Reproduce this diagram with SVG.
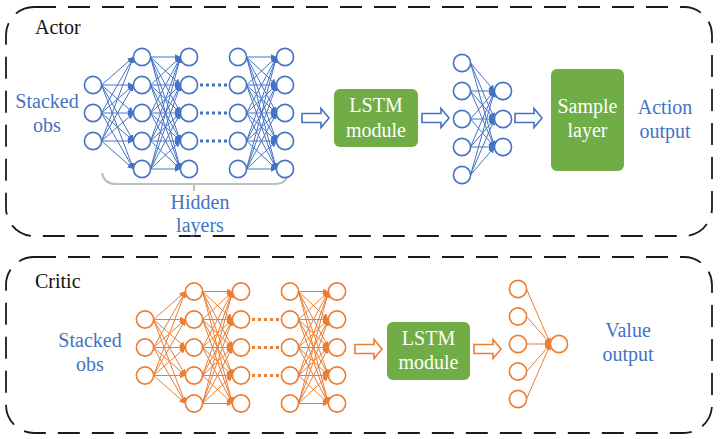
<svg xmlns="http://www.w3.org/2000/svg" xmlns:xlink="http://www.w3.org/1999/xlink" width="720" height="439" viewBox="0 0 720 439">
<style>
.frame{fill:none;stroke:#1a1a1a;stroke-width:1.8;stroke-dasharray:22 12}
.nb{fill:#fff;stroke:#4472C4;stroke-width:1.6}
.no{fill:#fff;stroke:#ED7D31;stroke-width:1.6}
.cb{stroke:#4472C4;stroke-width:1;fill:none;marker-end:url(#ahb)}
.co{stroke:#ED7D31;stroke-width:1;fill:none;marker-end:url(#aho)}
.dotb{stroke:#4472C4;stroke-width:3;stroke-dasharray:3 3}
.doto{stroke:#ED7D31;stroke-width:3;stroke-dasharray:3 3}
.blkb{fill:#fff;stroke:#4472C4;stroke-width:1.6}
.blko{fill:#fff;stroke:#ED7D31;stroke-width:1.6}
.box{fill:#70AD47}
text{font-family:'Liberation Serif','Times New Roman',Tinos,'DejaVu Serif',serif;font-size:20px}
.tb{fill:#4472C4;text-anchor:middle}
.tw{fill:#fff;text-anchor:middle}
.tk{fill:#111}
.brace{fill:none;stroke:#BFBFBF;stroke-width:2}
</style>
<defs>
<marker id="ahb" markerUnits="userSpaceOnUse" markerWidth="6" markerHeight="6" refX="6" refY="3" orient="auto"><path d="M0,0 L6,3 L0,6 z" fill="#4472C4"/></marker>
<marker id="aho" markerUnits="userSpaceOnUse" markerWidth="6" markerHeight="6" refX="6" refY="3" orient="auto"><path d="M0,0 L6,3 L0,6 z" fill="#ED7D31"/></marker>
<g id="mesh35">
<line x1="0" y1="28" x2="32" y2="0"/><line x1="0" y1="28" x2="32" y2="28"/><line x1="0" y1="28" x2="32" y2="56"/><line x1="0" y1="28" x2="32" y2="84"/><line x1="0" y1="28" x2="32" y2="112"/>
<line x1="0" y1="56" x2="32" y2="0"/><line x1="0" y1="56" x2="32" y2="28"/><line x1="0" y1="56" x2="32" y2="56"/><line x1="0" y1="56" x2="32" y2="84"/><line x1="0" y1="56" x2="32" y2="112"/>
<line x1="0" y1="84" x2="32" y2="0"/><line x1="0" y1="84" x2="32" y2="28"/><line x1="0" y1="84" x2="32" y2="56"/><line x1="0" y1="84" x2="32" y2="84"/><line x1="0" y1="84" x2="32" y2="112"/>
</g>
<g id="mesh55">
<line x1="0" y1="0" x2="30" y2="0"/><line x1="0" y1="0" x2="30" y2="28"/><line x1="0" y1="0" x2="30" y2="56"/><line x1="0" y1="0" x2="30" y2="84"/><line x1="0" y1="0" x2="30" y2="112"/>
<line x1="0" y1="28" x2="30" y2="0"/><line x1="0" y1="28" x2="30" y2="28"/><line x1="0" y1="28" x2="30" y2="56"/><line x1="0" y1="28" x2="30" y2="84"/><line x1="0" y1="28" x2="30" y2="112"/>
<line x1="0" y1="56" x2="30" y2="0"/><line x1="0" y1="56" x2="30" y2="28"/><line x1="0" y1="56" x2="30" y2="56"/><line x1="0" y1="56" x2="30" y2="84"/><line x1="0" y1="56" x2="30" y2="112"/>
<line x1="0" y1="84" x2="30" y2="0"/><line x1="0" y1="84" x2="30" y2="28"/><line x1="0" y1="84" x2="30" y2="56"/><line x1="0" y1="84" x2="30" y2="84"/><line x1="0" y1="84" x2="30" y2="112"/>
<line x1="0" y1="112" x2="30" y2="0"/><line x1="0" y1="112" x2="30" y2="28"/><line x1="0" y1="112" x2="30" y2="56"/><line x1="0" y1="112" x2="30" y2="84"/><line x1="0" y1="112" x2="30" y2="112"/>
</g>
<g id="mesh53">
<line x1="0" y1="0" x2="24" y2="28"/><line x1="0" y1="0" x2="24" y2="56"/><line x1="0" y1="0" x2="24" y2="84"/>
<line x1="0" y1="28" x2="24" y2="28"/><line x1="0" y1="28" x2="24" y2="56"/><line x1="0" y1="28" x2="24" y2="84"/>
<line x1="0" y1="56" x2="24" y2="28"/><line x1="0" y1="56" x2="24" y2="56"/><line x1="0" y1="56" x2="24" y2="84"/>
<line x1="0" y1="84" x2="24" y2="28"/><line x1="0" y1="84" x2="24" y2="56"/><line x1="0" y1="84" x2="24" y2="84"/>
<line x1="0" y1="112" x2="24" y2="28"/><line x1="0" y1="112" x2="24" y2="56"/><line x1="0" y1="112" x2="24" y2="84"/>
</g>
</defs>

<rect id="actor-frame" class="frame" x="6" y="7" width="706" height="229" rx="28"/>
<rect id="critic-frame" class="frame" x="6" y="257" width="706" height="176" rx="28"/>
<text class="tk" x="35" y="34" font-family="Liberation Serif, serif">Actor</text>
<text class="tk" x="35" y="288" font-family="Liberation Serif, serif">Critic</text>

<g id="connectors">
<use class="cb" xlink:href="#mesh35" transform="translate(101.5,57)"/>
<use class="cb" xlink:href="#mesh55" transform="translate(150.5,57)"/>
<use class="cb" xlink:href="#mesh55" transform="translate(246.5,57)"/>
<line class="dotb" x1="200" y1="85" x2="228" y2="85"/>
<line class="dotb" x1="200" y1="113" x2="228" y2="113"/>
<line class="dotb" x1="200" y1="141" x2="228" y2="141"/>
<use class="cb" xlink:href="#mesh53" transform="translate(470.5,63)"/>
<path class="blkb" d="M302,113.5 H321 V108.5 L329,118 L321,127.5 V122.5 H302 Z"/>
<path class="blkb" d="M422,113.5 H441 V108.5 L449,118 L441,127.5 V122.5 H422 Z"/>
<path class="blkb" d="M515,113.5 H534 V108.5 L542,118 L534,127.5 V122.5 H515 Z"/>

<use class="co" xlink:href="#mesh35" transform="translate(153.5,291.5)"/>
<use class="co" xlink:href="#mesh55" transform="translate(202.5,291.5)"/>
<use class="co" xlink:href="#mesh55" transform="translate(298.5,291.5)"/>
<line class="doto" x1="252" y1="319.5" x2="280" y2="319.5"/>
<line class="doto" x1="252" y1="347.5" x2="280" y2="347.5"/>
<line class="doto" x1="252" y1="375.5" x2="280" y2="375.5"/>
<line class="co" x1="526.5" y1="289" x2="550.5" y2="344"/>
<line class="co" x1="526.5" y1="316.5" x2="550.5" y2="344"/>
<line class="co" x1="526.5" y1="344" x2="550.5" y2="344"/>
<line class="co" x1="526.5" y1="371.5" x2="550.5" y2="344"/>
<line class="co" x1="526.5" y1="399" x2="550.5" y2="344"/>
<path class="blko" d="M355,344.5 H374 V339.5 L382,349 L374,358.5 V353.5 H355 Z"/>
<path class="blko" d="M474,344.5 H493 V339.5 L501,349 L493,358.5 V353.5 H474 Z"/>
</g>

<g id="brace">
<path class="brace" d="M102,173 Q104,184 116,184 H276 Q286,184 288,174 M194,184 V191"/>
</g>

<g id="actor-nodes">
<g id="a-in-1"><circle class="nb" cx="93" cy="85" r="8.6"/></g>
<g id="a-in-2"><circle class="nb" cx="93" cy="113" r="8.6"/></g>
<g id="a-in-3"><circle class="nb" cx="93" cy="141" r="8.6"/></g>
<g id="a-h1-1"><circle class="nb" cx="142" cy="57" r="8.6"/></g>
<g id="a-h1-2"><circle class="nb" cx="142" cy="85" r="8.6"/></g>
<g id="a-h1-3"><circle class="nb" cx="142" cy="113" r="8.6"/></g>
<g id="a-h1-4"><circle class="nb" cx="142" cy="141" r="8.6"/></g>
<g id="a-h1-5"><circle class="nb" cx="142" cy="169" r="8.6"/></g>
<g id="a-h2-1"><circle class="nb" cx="189" cy="57" r="8.6"/></g>
<g id="a-h2-2"><circle class="nb" cx="189" cy="85" r="8.6"/></g>
<g id="a-h2-3"><circle class="nb" cx="189" cy="113" r="8.6"/></g>
<g id="a-h2-4"><circle class="nb" cx="189" cy="141" r="8.6"/></g>
<g id="a-h2-5"><circle class="nb" cx="189" cy="169" r="8.6"/></g>
<g id="a-h3-1"><circle class="nb" cx="238" cy="57" r="8.6"/></g>
<g id="a-h3-2"><circle class="nb" cx="238" cy="85" r="8.6"/></g>
<g id="a-h3-3"><circle class="nb" cx="238" cy="113" r="8.6"/></g>
<g id="a-h3-4"><circle class="nb" cx="238" cy="141" r="8.6"/></g>
<g id="a-h3-5"><circle class="nb" cx="238" cy="169" r="8.6"/></g>
<g id="a-h4-1"><circle class="nb" cx="285" cy="57" r="8.6"/></g>
<g id="a-h4-2"><circle class="nb" cx="285" cy="85" r="8.6"/></g>
<g id="a-h4-3"><circle class="nb" cx="285" cy="113" r="8.6"/></g>
<g id="a-h4-4"><circle class="nb" cx="285" cy="141" r="8.6"/></g>
<g id="a-h4-5"><circle class="nb" cx="285" cy="169" r="8.6"/></g>
<g id="a-lstm"><rect class="box" x="334" y="89" width="84" height="58" rx="6"/><text class="tw" x="376" y="112">LSTM</text><text class="tw" x="376" y="137">module</text></g>
<g id="a-o1-1"><circle class="nb" cx="462" cy="63" r="8.6"/></g>
<g id="a-o1-2"><circle class="nb" cx="462" cy="91" r="8.6"/></g>
<g id="a-o1-3"><circle class="nb" cx="462" cy="119" r="8.6"/></g>
<g id="a-o1-4"><circle class="nb" cx="462" cy="147" r="8.6"/></g>
<g id="a-o1-5"><circle class="nb" cx="462" cy="175" r="8.6"/></g>
<g id="a-o2-1"><circle class="nb" cx="503" cy="91" r="8.6"/></g>
<g id="a-o2-2"><circle class="nb" cx="503" cy="119" r="8.6"/></g>
<g id="a-o2-3"><circle class="nb" cx="503" cy="147" r="8.6"/></g>
<g id="a-sample"><rect class="box" x="551" y="69" width="73" height="102" rx="6"/><text class="tw" x="587.5" y="113">Sample</text><text class="tw" x="587.5" y="137">layer</text></g>
</g>

<g id="critic-nodes">
<g id="c-in-1"><circle class="no" cx="145" cy="319.5" r="8.6"/></g>
<g id="c-in-2"><circle class="no" cx="145" cy="347.5" r="8.6"/></g>
<g id="c-in-3"><circle class="no" cx="145" cy="375.5" r="8.6"/></g>
<g id="c-h1-1"><circle class="no" cx="194" cy="291.5" r="8.6"/></g>
<g id="c-h1-2"><circle class="no" cx="194" cy="319.5" r="8.6"/></g>
<g id="c-h1-3"><circle class="no" cx="194" cy="347.5" r="8.6"/></g>
<g id="c-h1-4"><circle class="no" cx="194" cy="375.5" r="8.6"/></g>
<g id="c-h1-5"><circle class="no" cx="194" cy="403.5" r="8.6"/></g>
<g id="c-h2-1"><circle class="no" cx="241" cy="291.5" r="8.6"/></g>
<g id="c-h2-2"><circle class="no" cx="241" cy="319.5" r="8.6"/></g>
<g id="c-h2-3"><circle class="no" cx="241" cy="347.5" r="8.6"/></g>
<g id="c-h2-4"><circle class="no" cx="241" cy="375.5" r="8.6"/></g>
<g id="c-h2-5"><circle class="no" cx="241" cy="403.5" r="8.6"/></g>
<g id="c-h3-1"><circle class="no" cx="290" cy="291.5" r="8.6"/></g>
<g id="c-h3-2"><circle class="no" cx="290" cy="319.5" r="8.6"/></g>
<g id="c-h3-3"><circle class="no" cx="290" cy="347.5" r="8.6"/></g>
<g id="c-h3-4"><circle class="no" cx="290" cy="375.5" r="8.6"/></g>
<g id="c-h3-5"><circle class="no" cx="290" cy="403.5" r="8.6"/></g>
<g id="c-h4-1"><circle class="no" cx="337" cy="291.5" r="8.6"/></g>
<g id="c-h4-2"><circle class="no" cx="337" cy="319.5" r="8.6"/></g>
<g id="c-h4-3"><circle class="no" cx="337" cy="347.5" r="8.6"/></g>
<g id="c-h4-4"><circle class="no" cx="337" cy="375.5" r="8.6"/></g>
<g id="c-h4-5"><circle class="no" cx="337" cy="403.5" r="8.6"/></g>
<g id="c-lstm"><rect class="box" x="387" y="322" width="83" height="58" rx="6"/><text class="tw" x="428.5" y="345">LSTM</text><text class="tw" x="428.5" y="369">module</text></g>
<g id="c-o1-1"><circle class="no" cx="518" cy="289" r="8.6"/></g>
<g id="c-o1-2"><circle class="no" cx="518" cy="316.5" r="8.6"/></g>
<g id="c-o1-3"><circle class="no" cx="518" cy="344" r="8.6"/></g>
<g id="c-o1-4"><circle class="no" cx="518" cy="371.5" r="8.6"/></g>
<g id="c-o1-5"><circle class="no" cx="518" cy="399" r="8.6"/></g>
<g id="c-out"><circle class="no" cx="559" cy="344" r="8.6"/></g>
</g>

<g id="labels">
<text class="tb" x="47" y="108">Stacked</text>
<text class="tb" x="47" y="132">obs</text>
<text class="tb" x="200" y="209">Hidden</text>
<text class="tb" x="200" y="232">layers</text>
<text class="tb" x="665" y="114">Action</text>
<text class="tb" x="665" y="138">output</text>
<text class="tb" x="90" y="347">Stacked</text>
<text class="tb" x="90" y="371">obs</text>
<text class="tb" x="628" y="337">Value</text>
<text class="tb" x="628" y="361">output</text>
</g>
</svg>
